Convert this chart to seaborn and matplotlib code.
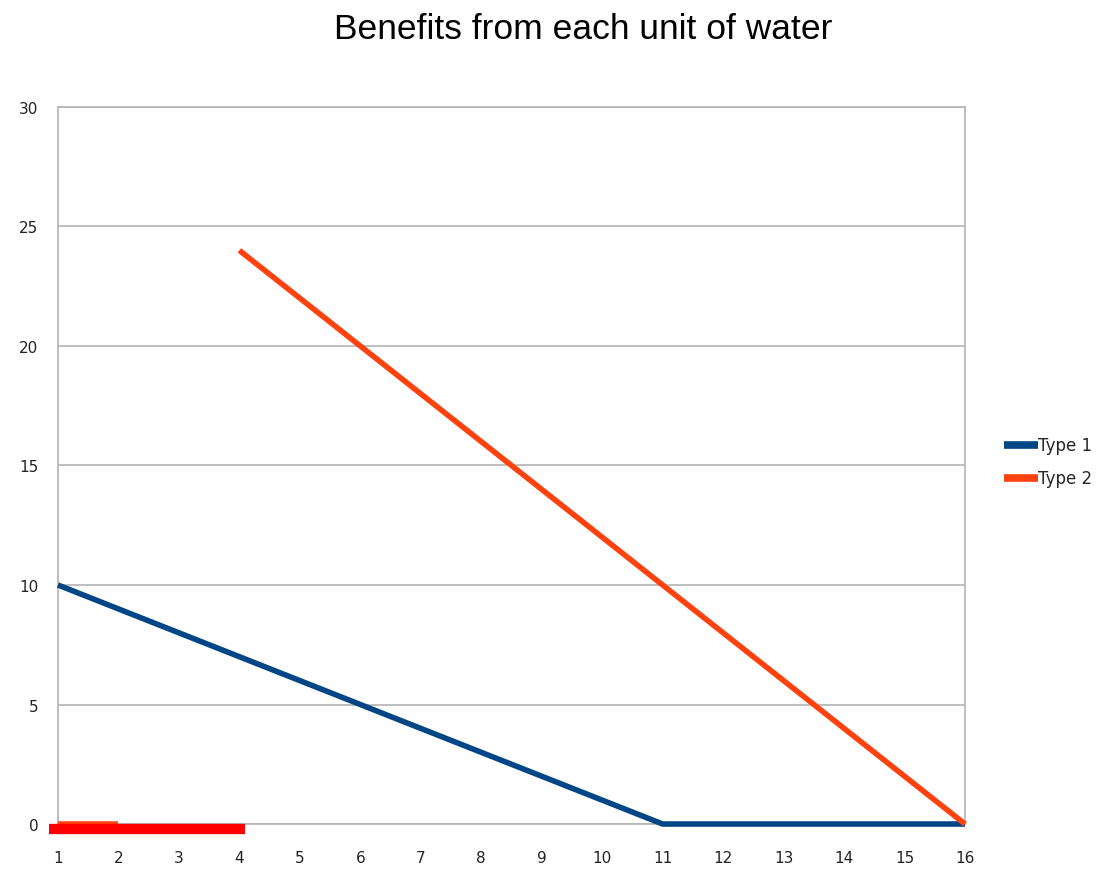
import numpy as np
import pandas as pd
import matplotlib
matplotlib.use("Agg")
import matplotlib.pyplot as plt
from matplotlib.lines import Line2D
import seaborn as sns

sns.set_theme(style="white")
plt.rcParams["font.family"] = ["DejaVu Sans"]

units = list(range(1, 17))
type1 = [10, 9, 8, 7, 6, 5, 4, 3, 2, 1, 0, 0, 0, 0, 0, 0]
type2 = [0, 0, np.nan, 24, 22, 20, 18, 16, 14, 12, 10, 8, 6, 4, 2, 0]
series_names = ["Type 1", "Type 2"]
series_colors = ["#004586", "#ff420e"]
y_ticks = [0, 5, 10, 15, 20, 25, 30]

# highlighted stretch of the first units along the baseline
mark_x = [0.85, 4.1]
mark_y = [-0.2, -0.2]

df = pd.DataFrame({"unit": units, "Type 1": type1, "Type 2": type2})

fig = plt.figure(figsize=(11.06, 8.7), dpi=100)
ax = fig.add_axes([0.0524, 0.0517, 0.8201, 0.8242])

# Type 2 has a gap, so draw each continuous run separately
t2 = df[["unit", "Type 2"]].copy()
t2["run"] = t2["Type 2"].isna().cumsum()
t2 = t2.dropna()

sns.lineplot(data=df, x="unit", y="Type 1", color=series_colors[0], lw=4.0,
             ax=ax, zorder=3, solid_capstyle="butt", clip_on=False)
for _, seg in t2.groupby("run"):
    sns.lineplot(data=seg, x="unit", y="Type 2", color=series_colors[1], lw=4.0,
                 ax=ax, zorder=3, solid_capstyle="butt", clip_on=False)

ax.plot(mark_x, mark_y, color="#ff0000", lw=7.4, solid_capstyle="butt",
        clip_on=False, zorder=4)

ax.set_xlim(1, 16)
ax.set_ylim(0, 30)
ax.set_xticks(units)
ax.set_yticks(y_ticks)
ax.set_xlabel("")
ax.set_ylabel("")
ax.grid(axis="y", color="#b3b3b3", lw=1.2)
for s in ax.spines.values():
    s.set_color("#b3b3b3")
    s.set_linewidth(1.2)
ax.tick_params(axis="both", labelsize=11, colors="#222222", length=0)
ax.tick_params(axis="x", length=5, color="#b3b3b3", width=1.2, direction="out", pad=14)
ax.tick_params(axis="y", length=9, color="#b3b3b3", width=1.2, direction="out", pad=5)
for lab in ax.get_xticklabels() + ax.get_yticklabels():
    lab.set_color("#222222")

fig.text(0.527, 0.966, "Benefits from each unit of water", ha="center", va="center",
         fontsize=25.5, color="black", family=["Liberation Sans", "DejaVu Sans"])

handles = [Line2D([0], [0], color=c, lw=5.5, solid_capstyle="butt") for c in series_colors]
fig.legend(handles, series_names, loc="center left", bbox_to_anchor=(0.902, 0.468),
           frameon=False, fontsize=12, handlelength=2.0, handletextpad=0.0,
           labelspacing=0.9, borderaxespad=0)

fig.savefig("out.png", dpi=100)
